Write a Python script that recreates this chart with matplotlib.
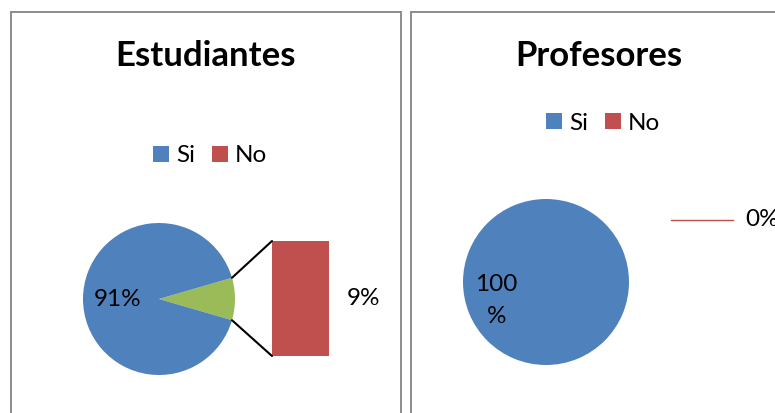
import matplotlib
matplotlib.use("Agg")
import matplotlib.pyplot as plt
from matplotlib.patches import Rectangle, Patch, ConnectionPatch
import numpy as np

plt.rcParams['font.family'] = ['Lato', 'DejaVu Sans']

# ---- data ----
categories = ["Si", "No"]
estudiantes_values = [91, 9]
profesores_values = [100, 0]
titles = ["Estudiantes", "Profesores"]

C_BLUE = "#4F81BD"
C_RED = "#C0504D"
C_GREEN = "#9BBB59"
colors = [C_BLUE, C_RED]

W, H = 775, 413
fig = plt.figure(figsize=(W / 100, H / 100), dpi=100)


def px_axes(x0, y0, w, h):
    """axes from a pixel box (top-left origin)"""
    return fig.add_axes([x0 / W, (H - y0 - h) / H, w / W, h / H])


# panel borders
for (x0, x1) in [(11, 401), (411, 790)]:
    fig.patches.append(Rectangle((x0 / W, -0.05), (x1 - x0) / W, (H - 12) / H + 0.05,
                                 transform=fig.transFigure, fill=False,
                                 edgecolor="#8C8C8C", linewidth=1.4, zorder=0))

# titles
fig.text(206 / W, 1 - 56 / H, titles[0], ha="center", va="center",
         fontsize=25, fontweight="bold")
fig.text(599 / W, 1 - 56 / H, titles[1], ha="center", va="center",
         fontsize=25, fontweight="bold")

# legends
handles = [Patch(facecolor=c, edgecolor="none") for c in colors]
for cx, cy in [(210, 156), (603, 123)]:
    fig.legend(handles, categories, ncol=2, frameon=False, loc="center",
               bbox_to_anchor=(cx / W, 1 - cy / H), fontsize=17.5,
               handlelength=0.65, handleheight=0.65, handletextpad=0.3,
               columnspacing=0.7, borderpad=0)

LBL = 17.5

# ---- Estudiantes: pie of bar ----
r1 = 76
axp = px_axes(159 - r1, 299 - r1, 2 * r1, 2 * r1)
other = estudiantes_values[1]
half = 360 * other / sum(estudiantes_values) / 2
axp.pie([other, estudiantes_values[0]], colors=[C_GREEN, C_BLUE],
        startangle=-half, radius=1, wedgeprops=dict(linewidth=0))
axp.set_xlim(-1, 1)
axp.set_ylim(-1, 1)
axp.axis("off")
axp.text(-0.55, 0, f"{estudiantes_values[0]}%", ha="center", va="center", fontsize=LBL)

axb = px_axes(272, 241, 57, 115)
axb.bar([0], [other], width=1, color=C_RED, linewidth=0)
axb.set_xlim(-0.5, 0.5)
axb.set_ylim(0, other)
axb.axis("off")
axb.text(0.82, other / 2, f"{other}%", ha="left", va="center", fontsize=LBL,
         transform=axb.transData)

th = np.deg2rad(half)
for sgn, yb in [(1, other), (-1, 0)]:
    con = ConnectionPatch(xyA=(np.cos(th), sgn * np.sin(th)), coordsA=axp.transData,
                          xyB=(-0.5, yb), coordsB=axb.transData,
                          color="black", linewidth=1.5)
    fig.add_artist(con)

# ---- Profesores ----
r2 = 83
axq = px_axes(546 - r2, 282 - r2, 2 * r2, 2 * r2)
axq.pie(profesores_values, colors=colors, startangle=90, counterclock=False,
        radius=1, wedgeprops=dict(linewidth=0))
axq.set_xlim(-1, 1)
axq.set_ylim(-1, 1)
axq.axis("off")
axq.text(-0.6, -0.22, f"{profesores_values[0]}\n%", ha="center", va="center",
         fontsize=LBL, linespacing=1.65)
axq.plot([1.51, 2.25], [0.75, 0.75], color=C_RED, linewidth=1, clip_on=False)
axq.text(2.4, 0.75, f"{profesores_values[1]}%", ha="left", va="center",
         fontsize=LBL, clip_on=False)

fig.savefig("out.png", dpi=100)
